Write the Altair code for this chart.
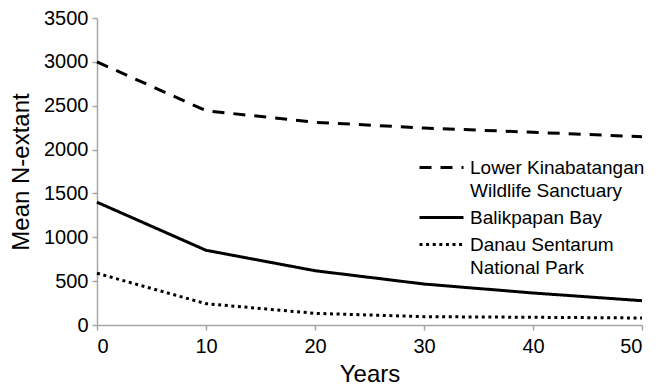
import altair as alt
import pandas as pd

years = [0, 10, 20, 30, 40, 50]
lower_kinabatangan = [3000, 2443, 2311, 2246, 2197, 2147]
balikpapan_bay = [1400, 852, 619, 467, 365, 277]
danau_sentarum = [590, 243, 133, 95, 88, 80]

series_names = [
    "Lower Kinabatangan\nWildlife Sanctuary",
    "Balikpapan Bay",
    "Danau Sentarum\nNational Park",
]
series_values = [lower_kinabatangan, balikpapan_bay, danau_sentarum]

rows = []
for name, vals in zip(series_names, series_values):
    for yr, v in zip(years, vals):
        rows.append({"Years": yr, "value": v, "site": name})
df = pd.DataFrame(rows)

FONT = "Liberation Sans"
AXIS_GREY = "#a6a6a6"

chart = (
    alt.Chart(df)
    .mark_line(color="black", strokeWidth=3)
    .encode(
        x=alt.X(
            "Years:Q",
            title="Years",
            scale=alt.Scale(domain=[0, 50], nice=False),
            axis=alt.Axis(values=[0, 10, 20, 30, 40, 50], grid=False, format="d"),
        ),
        y=alt.Y(
            "value:Q",
            title="Mean N-extant",
            scale=alt.Scale(domain=[0, 3500], nice=False),
            axis=alt.Axis(values=[0, 500, 1000, 1500, 2000, 2500, 3000, 3500], grid=False, format="d"),
        ),
        strokeDash=alt.StrokeDash(
            "site:N",
            sort=series_names,
            scale=alt.Scale(domain=series_names, range=[[12, 9], [1, 0], [3, 3.6]]),
            legend=alt.Legend(
                title=None,
                orient="none",
                legendX=321,
                legendY=140,
                symbolType="M-4,0L4,0",
                symbolSize=121,
                symbolOffset=14,
                symbolStrokeWidth=3,
                symbolStrokeColor="black",
                labelExpr="split(datum.label, '\\n')",
                labelFont=FONT,
                labelFontSize=19,
                labelColor="black",
                labelOffset=19,
                labelLimit=300,
                rowPadding=7,
            ),
        ),
    )
    .properties(
        width=545,
        height=307,
        padding={"left": 1, "top": 0, "right": 5, "bottom": 0},
    )
    .configure_axis(
        domainColor=AXIS_GREY,
        tickColor=AXIS_GREY,
        domainWidth=1.5,
        tickWidth=1.5,
        tickSize=5,
        labelFont=FONT,
        labelFontSize=20,
        labelColor="black",
        titleFont=FONT,
        titleFontSize=24,
        titleFontWeight="normal",
        titleColor="black",
    )
    .configure_axisY(titlePadding=10, labelPadding=4)
    .configure_axisX(titlePadding=6, labelPadding=6)
    .configure_view(stroke=None)
)
chart.config.style = {"guide-label": {"lineHeight": 23}}

chart.save("out.html", embed_options={"renderer": "svg", "actions": False})
